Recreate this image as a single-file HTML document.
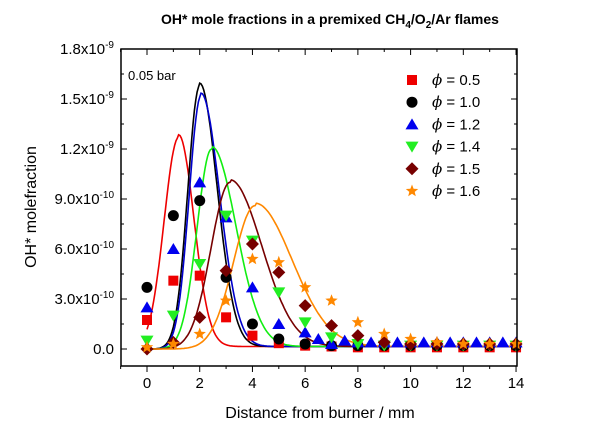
<!DOCTYPE html>
<html><head><meta charset="utf-8"><style>
body{margin:0;background:#fff;width:600px;height:427px;overflow:hidden}
text{font-family:"Liberation Sans",Arial,sans-serif}
</style></head><body>
<svg id="s" width="600" height="427" xmlns="http://www.w3.org/2000/svg">
<text x="330" y="24" text-anchor="middle" font-size="14" font-weight="bold">OH* mole fractions in a premixed CH<tspan font-size="10" dy="4">4</tspan><tspan dy="-4">/O</tspan><tspan font-size="10" dy="4">2</tspan><tspan dy="-4">/Ar flames</tspan></text>
<text x="128" y="80" font-size="13">0.05 bar</text>
<text transform="translate(36,207) rotate(-90)" text-anchor="middle" font-size="16">OH* molefraction</text>
<text x="320" y="418" text-anchor="middle" font-size="16">Distance from burner / mm</text>
<g id="g"></g>
</svg>
<script>
const NS="http://www.w3.org/2000/svg",g=document.getElementById('g');
const L=121,R=517,T=49,B=366;
const X=x=>147+x*26.36,Y=v=>349-v*50/3;
function el(t,a,p){p=p||g;const e=document.createElementNS(NS,t);for(const k in a)e.setAttribute(k,a[k]);p.appendChild(e);return e}
function tx(x,y,s,a,fs){const e=el('text',{x:x,y:y,'text-anchor':a||'middle','font-size':fs||14});e.textContent=s;return e}
const C=[["#e00",1.2,12.7,0.55,0.58],["#000",2.0,15.8,0.45,0.66],["#00c",2.05,15.2,0.45,0.7],["#1e1",2.45,12.0,0.55,0.92],["#700",3.15,10.0,0.72,1.2],["#f80",4.1,8.6,0.82,1.4]];
C.forEach(function(c){let d="";for(let x=0;x<=14.01;x+=0.05){const s=x<c[1]?c[3]:c[4];const z=(x-c[1])/s;const v=c[2]*Math.exp(-z*z/2)+(x>c[1]?0.15:0);d+=(d?"L":"M")+X(x).toFixed(1)+","+Y(v).toFixed(1)}el('path',{d:d,fill:'none',stroke:c[0],'stroke-width':1.6})});
const P={
sq:["#e00",[[0,1.74],[1,4.1],[2,4.4],[3,1.9],[4,0.8],[5,0.35],[6,0.2],[7,0.15],[8,0.1],[9,0.1],[10,0.1],[11,0.1],[12,0.1],[13,0.1],[14,0.1]]],
ci:["#000",[[0,3.7],[1,8.0],[2,8.9],[3,4.3],[4,1.5],[5,0.6],[6,0.3],[7,0.2],[8,0.2],[9,0.2],[10,0.2],[11,0.2],[12,0.2],[13,0.2],[14,0.2]]],
tu:["#00e",[[0,2.5],[1,6.0],[2,10.0],[3,7.9],[4,3.7],[5,1.5],[6,1.0],[6.5,0.6],[7,0.3],[7.5,0.5],[8,0.4],[8.5,0.4],[9,0.4],[9.5,0.4],[10,0.4],[10.5,0.4],[11,0.4],[11.5,0.4],[12,0.4],[12.5,0.4],[13,0.4],[13.5,0.4],[14,0.4]]],
td:["#2e2",[[0,0.5],[1,2.0],[2,5.1],[3,8.0],[4,6.5],[5,3.4],[6,1.6],[7,0.7],[8,0.3],[9,0.2],[10,0.2],[11,0.2],[12,0.2],[13,0.2],[14,0.2]]],
di:["#700",[[0,0],[1,0.4],[2,1.9],[3,4.7],[4,6.3],[5,4.6],[6,2.6],[7,1.4],[8,0.8],[9,0.4],[10,0.3],[11,0.3],[12,0.3],[13,0.3],[14,0.3]]],
st:["#f80",[[0,0.1],[1,0.3],[2,0.9],[3,2.9],[4,5.4],[5,5.2],[6,3.7],[7,2.9],[8,1.6],[9,0.9],[10,0.6],[11,0.4],[12,0.3],[13,0.3],[14,0.3]]]};
function mk(t,x,y,c){
 if(t=='sq')el('rect',{x:x-5,y:y-5,width:10,height:10,fill:c});
 else if(t=='ci')el('circle',{cx:x,cy:y,r:5.5,fill:c});
 else if(t=='tu')el('polygon',{points:x+","+(y-6)+" "+(x-6.5)+","+(y+5)+" "+(x+6.5)+","+(y+5),fill:c});
 else if(t=='td')el('polygon',{points:x+","+(y+6)+" "+(x-6.5)+","+(y-5)+" "+(x+6.5)+","+(y-5),fill:c});
 else if(t=='di')el('polygon',{points:x+","+(y-6.5)+" "+(x+6.5)+","+y+" "+x+","+(y+6.5)+" "+(x-6.5)+","+y,fill:c});
 else{let p="";for(let i=0;i<10;i++){const r=i%2?2.8:6.5,a=-Math.PI/2+i*Math.PI/5;p+=(x+r*Math.cos(a)).toFixed(1)+","+(y+r*Math.sin(a)).toFixed(1)+" "}el('polygon',{points:p,fill:c})}}
for(const t in P)P[t][1].forEach(function(p){mk(t,X(p[0]),Y(p[1]),P[t][0])});
const labs=["0.5","1.0","1.2","1.4","1.5","1.6"];Object.keys(P).forEach(function(t,i){const y=80+i*22.2;mk(t,412,y,P[t][0]);
 const e=el('text',{x:432,y:y+5,'font-size':15});const a=el('tspan',{'font-style':'italic','font-family':'DejaVu Serif,serif'},e);a.textContent="ϕ";const b=el('tspan',{},e);b.textContent=" = "+labs[i];});
el('rect',{x:L,y:T,width:R-L,height:B-T,fill:'none',stroke:'#000','stroke-width':1.5});
for(let i=-1;i<=14;i++){const x=X(i),maj=i%2==0;el('line',{x1:x,x2:x,y1:B,y2:B+(maj?6:3),stroke:'#000'});el('line',{x1:x,x2:x,y1:T,y2:T+(maj?6:3),stroke:'#000'});if(maj)tx(x,388,String(i),'middle',15)}
for(let k=0;k<=12;k++){const v=k*1.5,y=Y(v),maj=k%2==0;el('line',{x1:L,x2:L+(maj?6:3),y1:y,y2:y,stroke:'#000'});el('line',{x1:R,x2:R-(maj?6:3),y1:y,y2:y,stroke:'#000'});
 if(maj){const n=k/2*3;let m,e;if(n==0){tx(114,y+5,"0.0","end",15);continue}if(n<10){m=n.toFixed(1);e="-10"}else{m=(n/10).toFixed(1);e="-9"}
 const t=el('text',{x:114,y:y+5,'text-anchor':'end','font-size':15});t.appendChild(document.createTextNode(m+"x10"));const s=el('tspan',{'font-size':10,dy:-6},t);s.textContent=e;}}
</script>
</body></html>
